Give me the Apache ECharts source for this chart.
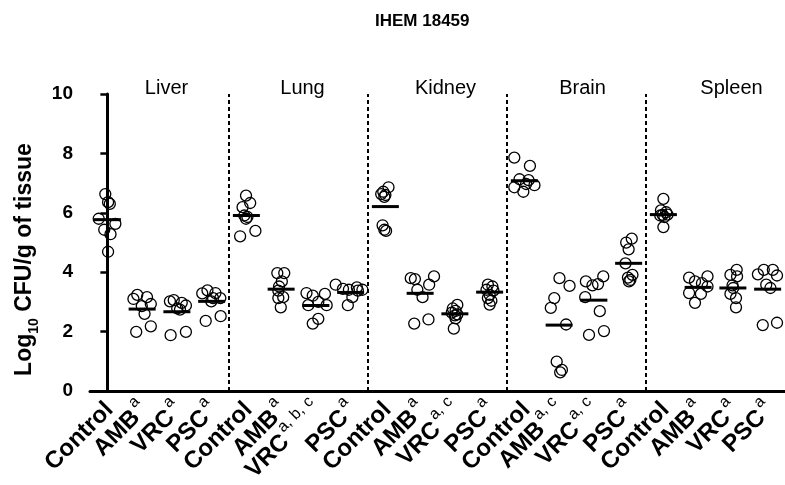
<!DOCTYPE html>
<html>
<head>
<meta charset="utf-8">
<script src="https://cdn.jsdelivr.net/npm/echarts@6/dist/echarts.min.js"></script>
<style>html,body{margin:0;padding:0;background:#fff}#c{width:785px;height:485px}</style>
</head>
<body>
<div id="c"></div>
<script>
// ---------- data ----------
const chartTitle = 'IHEM 18459';
const tissues = ['Liver', 'Lung', 'Kidney', 'Brain', 'Spleen'];
const treatments = ['Control', 'AMB', 'VRC', 'PSC'];
const superscripts = [
  ['', 'a', 'a', 'a'],
  ['', 'a', 'a, b, c', 'a'],
  ['', 'a', 'a, c', 'a'],
  ['', 'a, c', 'a, c', 'a'],
  ['', 'a', 'a', 'a']
];
const yTicks = [0, 2, 4, 6, 8, 10];

const liverValues = [
  [6.63, 6.30, 6.36, 5.80, 5.63, 5.43, 5.28, 4.69],
  [3.24, 3.16, 3.10, 2.93, 2.86, 2.60, 1.99, 2.18],
  [3.02, 3.06, 2.97, 2.88, 2.78, 2.74, 1.88, 1.99],
  [3.29, 3.39, 3.30, 3.13, 3.02, 3.13, 2.36, 2.52]
];
const liverJitter = [
  [-0.06, 0.07, 0.02, -0.25, 0.23, -0.09, 0.09, 0.02],
  [-0.14, 0.14, -0.25, 0.25, -0.01, 0.07, -0.17, 0.25],
  [-0.20, -0.09, 0.14, 0.26, 0.01, 0.09, -0.18, 0.26],
  [-0.27, -0.12, 0.11, 0.25, -0.01, 0.04, -0.17, 0.26]
];
const liverMeans = [5.77, 2.76, 2.67, 3.02];

const lungValues = [
  [6.58, 6.33, 6.19, 5.91, 5.80, 5.21, 5.39, 5.86],
  [3.97, 3.97, 3.69, 3.52, 3.38, 3.16, 3.13, 2.82],
  [3.30, 3.21, 3.27, 3.00, 2.89, 2.89, 2.27, 2.43],
  [3.58, 3.44, 3.41, 3.49, 3.41, 3.16, 2.89, 3.38]
];
const lungJitter = [
  [-0.01, 0.11, -0.11, -0.06, -0.01, -0.18, 0.26, 0.03],
  [-0.11, 0.09, 0.02, -0.06, -0.08, 0.06, -0.08, -0.01],
  [-0.27, -0.09, 0.26, 0.07, -0.22, 0.31, -0.09, 0.07],
  [-0.43, -0.22, -0.05, 0.18, 0.34, 0.05, -0.08, 0.21]
];
const lungMeans = [5.91, 3.43, 2.88, 3.32];

const kidneyValues = [
  [6.86, 6.71, 6.63, 6.60, 6.54, 5.58, 5.39, 5.43],
  [3.80, 3.77, 3.86, 3.58, 3.41, 3.16, 2.27, 2.41],
  [2.90, 2.78, 2.70, 2.64, 2.58, 2.55, 2.45, 2.10],
  [3.58, 3.52, 3.41, 3.38, 3.24, 3.13, 3.04, 2.91]
];
const kidneyJitter = [
  [0.09, -0.06, -0.12, 0.00, -0.03, -0.08, 0.02, -0.03],
  [-0.27, -0.15, 0.40, 0.26, -0.08, 0.07, -0.17, 0.24],
  [0.07, -0.06, 0.02, -0.09, 0.07, 0.00, 0.02, -0.03],
  [-0.05, 0.08, -0.09, 0.11, 0.00, -0.05, 0.05, 0.00]
];
const kidneyMeans = [6.21, 3.29, 2.60, 3.33];

const brainValues = [
  [7.86, 7.58, 7.13, 7.10, 6.93, 6.86, 6.71, 6.97],
  [3.80, 3.54, 3.13, 2.80, 2.24, 0.99, 0.71, 0.63],
  [3.69, 3.56, 3.60, 3.86, 3.16, 2.69, 2.02, 1.89],
  [5.13, 5.00, 4.77, 4.30, 3.91, 3.82, 3.74, 3.69]
];
const brainJitter = [
  [-0.29, 0.16, -0.14, 0.12, 0.29, -0.29, -0.03, 0.05],
  [0.01, 0.30, -0.14, -0.24, 0.20, -0.07, 0.08, 0.03],
  [-0.23, -0.04, 0.12, 0.27, -0.25, 0.17, 0.29, -0.14],
  [0.09, -0.07, 0.00, -0.09, 0.11, -0.02, 0.05, 0.01]
];
const brainMeans = [7.08, 2.22, 3.06, 4.30];

const spleenValues = [
  [6.47, 6.08, 6.02, 5.93, 5.91, 5.86, 5.52, 5.94],
  [3.82, 3.69, 3.86, 3.63, 3.52, 3.30, 3.27, 2.97],
  [4.08, 3.91, 3.86, 3.56, 3.27, 3.13, 2.82, 3.47],
  [3.93, 4.08, 4.08, 3.89, 3.58, 3.47, 2.22, 2.30]
];
const spleenJitter = [
  [0.00, -0.07, 0.08, -0.02, -0.09, 0.03, 0.00, 0.12],
  [-0.26, -0.09, 0.27, 0.11, 0.27, -0.26, 0.08, -0.09],
  [0.11, -0.07, 0.12, -0.01, -0.07, 0.09, 0.09, 0.01],
  [-0.28, -0.11, 0.15, 0.27, -0.04, 0.08, -0.14, 0.27]
];
const spleenMeans = [5.94, 3.49, 3.47, 3.43];

// ---------- build ----------
const allValues = [liverValues, lungValues, kidneyValues, brainValues, spleenValues];
const allJitter = [liverJitter, lungJitter, kidneyJitter, brainJitter, spleenJitter];
const allMeans = [liverMeans, lungMeans, kidneyMeans, brainMeans, spleenMeans];

const FONT = '"Liberation Sans", Arial, Helvetica, sans-serif';
const nT = treatments.length;
const categories = [];
const catSup = [];
tissues.forEach((ts, g) => treatments.forEach((tr, t) => {
  categories.push(tr);
  catSup.push(superscripts[g][t]);
}));

const points = [];
const means = [];
allValues.forEach((grp, g) => grp.forEach((vals, t) => {
  const idx = g * nT + t;
  vals.forEach((v, k) => points.push([idx + allJitter[g][t][k], v]));
  means.push([idx, allMeans[g][t]]);
}));

const dividers = tissues.slice(1).map((_, i) => ({ xAxis: (i + 1) * nT - 0.5 }));
const tissueLabelShift = [7, 4, 8, 6, 16];
const tissueLabelData = tissues.map((ts, g) => ({
  value: [g * nT + (nT - 1) / 2, 10],
  name: ts,
  label: { offset: [tissueLabelShift[g], -6] }
}));

const chart = echarts.init(document.getElementById('c'), null, { renderer: 'canvas' });
chart.setOption({
  animation: false,
  backgroundColor: '#fff',
  title: {
    text: chartTitle,
    left: 370, top: 8,
    textStyle: { fontFamily: FONT, fontWeight: 'bold', fontSize: 17, color: '#000' }
  },
  grid: { left: 90, right: 0, top: 94, bottom: 91, containLabel: false },
  xAxis: [{
    type: 'category',
    data: categories,
    boundaryGap: true,
    axisLine: { lineStyle: { color: '#000', width: 3 } },
    axisTick: { alignWithLabel: true, interval: 0, length: 9, lineStyle: { color: '#000', width: 2.5 } },
    axisLabel: {
      interval: 0, rotate: 45, margin: 13,
      formatter: (val, i) => '{b|' + val + '}' + (catSup[i] ? '{g| }{s|' + catSup[i] + '}' : ''),
      rich: {
        b: { fontFamily: FONT, fontWeight: 'bold', fontSize: 24, color: '#000', lineHeight: 30, verticalAlign: 'bottom' },
        g: { fontFamily: FONT, fontSize: 8, color: '#000' },
        s: { fontFamily: FONT, fontWeight: 'normal', fontSize: 16, color: '#000', verticalAlign: 'top', lineHeight: 16 }
      }
    },
    splitLine: { show: false }
  }, {
    type: 'value', show: false, min: -0.5, max: categories.length - 0.5
  }],
  yAxis: {
    type: 'value', min: yTicks[0], max: yTicks[yTicks.length - 1], interval: yTicks[1] - yTicks[0],
    name: '{b|Log}{sub|10}{b| CFU/g of tissue}',
    nameLocation: 'middle', nameGap: 47,
    nameTextStyle: {
      padding: [0, 34, 0, 0],
      rich: {
        b: { fontFamily: FONT, fontWeight: 'bold', fontSize: 23, color: '#000', verticalAlign: 'top', lineHeight: 28 },
        sub: { fontFamily: FONT, fontWeight: 'bold', fontSize: 14, color: '#000', verticalAlign: 'bottom', lineHeight: 28 }
      }
    },
    axisLine: { show: true, lineStyle: { color: '#000', width: 3 } },
    axisTick: { show: true, length: 7, lineStyle: { color: '#000', width: 2.5 } },
    axisLabel: { margin: 17, fontFamily: FONT, fontWeight: 'bold', fontSize: 19, color: '#000' },
    splitLine: { show: false }
  },
  series: [
    {
      type: 'scatter', name: 'dividers', xAxisIndex: 1, data: [], silent: true,
      markLine: {
        symbol: 'none', silent: true, label: { show: false },
        lineStyle: { color: '#000', width: 2, type: [4, 3], opacity: 1 },
        data: dividers
      }
    },
    {
      type: 'scatter', name: 'points', xAxisIndex: 1, data: points,
      symbol: 'circle', symbolSize: 11,
      itemStyle: { color: 'rgba(0,0,0,0)', borderColor: '#000', borderWidth: 1.3, opacity: 1 },
      emphasis: { disabled: true }, z: 3
    },
    {
      type: 'scatter', name: 'means', xAxisIndex: 1, data: means,
      symbol: 'rect', symbolSize: [27, 3],
      itemStyle: { color: '#000', opacity: 1 }, emphasis: { disabled: true }, z: 4
    },
    {
      type: 'scatter', name: 'tissues', xAxisIndex: 1, data: tissueLabelData,
      symbolSize: 0, silent: true, itemStyle: { opacity: 1 },
      label: {
        show: true, position: 'inside', formatter: p => p.name,
        fontFamily: FONT, fontSize: 20, color: '#000'
      }
    }
  ]
});
</script>
</body>
</html>
